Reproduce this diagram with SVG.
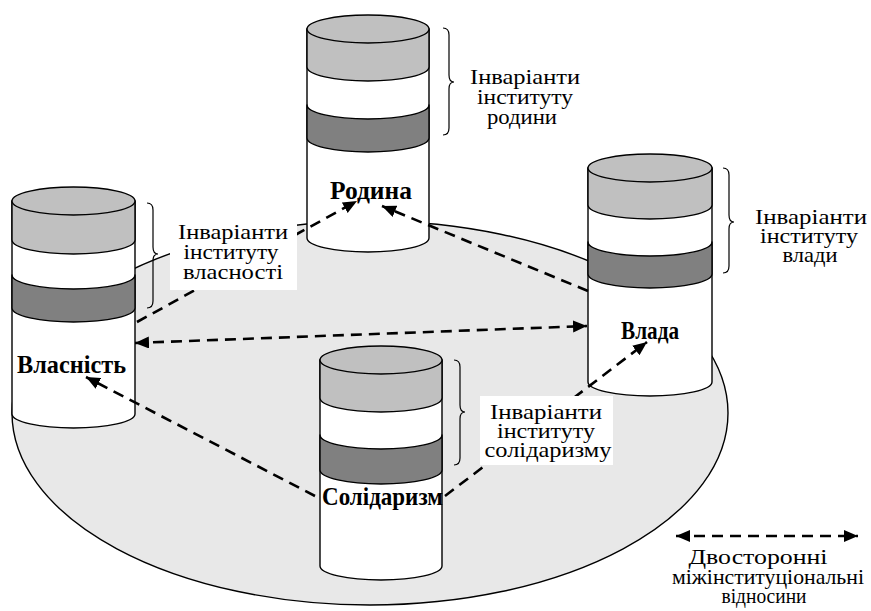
<svg xmlns="http://www.w3.org/2000/svg" width="871" height="611" viewBox="0 0 871 611">
<style>
.ol{stroke:#000;stroke-width:1.4;stroke-linejoin:round}
.lg{fill:#c0c0c0}
.dk{fill:#808080}
.wh{fill:#fff}
.br{fill:none;stroke:#000;stroke-width:1.2}
.lbl{font-family:"Liberation Serif","Times New Roman",serif;font-size:22px;fill:#000;text-anchor:middle}
.nm{font-family:"Liberation Serif","Times New Roman",serif;font-size:25px;font-weight:bold;fill:#000}
.cn{fill:none;stroke:#000;stroke-width:2.6;stroke-dasharray:11 7}
</style>
<defs>
<marker id="ah" markerUnits="userSpaceOnUse" markerWidth="15" markerHeight="12" refX="14" refY="6" orient="auto-start-reverse">
<path d="M0,0 L14,6 L0,12 Z" fill="#000"/>
</marker>
</defs>
<rect width="871" height="611" fill="#fff"/>
<g id="plate">
<ellipse cx="370" cy="413" rx="358" ry="192" fill="#e8e8e8" class="ol"/>
</g>
<g id="node-rodyna">
<path class="ol wh" d="M307,29 V238 A61,14 0 0 0 429,238 V29 Z"/>
<path class="ol lg" d="M307,29 V67 A61,14 0 0 0 429,67 V29 Z"/>
<path class="ol dk" d="M307,105 A61,14 0 0 0 429,105 V138 A61,14 0 0 1 307,138 Z"/>
<ellipse class="ol lg" cx="368" cy="29" rx="61" ry="14"/>
<path class="br" d="M443,28 Q449,28 449,35 V75 Q449,82 454,82 Q449,82 449,89 V128 Q449,135 443,135"/>
<text class="nm" x="330" y="199" textLength="82" lengthAdjust="spacingAndGlyphs">Родина</text>
</g>
<g id="node-vlasnist">
<path class="ol wh" d="M12,201 V414 A61.5,14 0 0 0 135,414 V201 Z"/>
<path class="ol lg" d="M12,201 V240 A61.5,14 0 0 0 135,240 V201 Z"/>
<path class="ol dk" d="M12,275 A61.5,14 0 0 0 135,275 V308 A61.5,14 0 0 1 12,308 Z"/>
<ellipse class="ol lg" cx="73.5" cy="201" rx="61.5" ry="14"/>
<path class="br" d="M147,203 Q153,203 153,210 V247 Q153,254 158,254 Q153,254 153,261 V301 Q153,308 147,308"/>
<text class="nm" x="17" y="373" textLength="109" lengthAdjust="spacingAndGlyphs">Власність</text>
</g>
<g id="node-vlada">
<path class="ol wh" d="M588,168 V382 A62,14 0 0 0 712,382 V168 Z"/>
<path class="ol lg" d="M588,168 V205 A62,14 0 0 0 712,205 V168 Z"/>
<path class="ol dk" d="M588,242 A62,14 0 0 0 712,242 V274 A62,14 0 0 1 588,274 Z"/>
<ellipse class="ol lg" cx="650" cy="168" rx="62" ry="14"/>
<path class="br" d="M723,168 Q729,168 729,175 V215 Q729,222 734,222 Q729,222 729,229 V266 Q729,273 723,273"/>
<text class="nm" x="621" y="339" textLength="58" lengthAdjust="spacingAndGlyphs">Влада</text>
</g>
<g id="node-solidaryzm">
<path class="ol wh" d="M320,360 V566 A61,14 0 0 0 442,566 V360 Z"/>
<path class="ol lg" d="M320,360 V398 A61,14 0 0 0 442,398 V360 Z"/>
<path class="ol dk" d="M320,435 A61,14 0 0 0 442,435 V470 A61,14 0 0 1 320,470 Z"/>
<ellipse class="ol lg" cx="381" cy="360" rx="61" ry="14"/>
<path class="br" d="M454,360 Q460,360 460,367 V405 Q460,412 465,412 Q460,412 460,419 V458 Q460,465 454,465"/>
<text class="nm" x="322" y="505" textLength="121" lengthAdjust="spacingAndGlyphs">Солідаризм</text>
</g>
<g id="connectors">
<line class="cn" x1="137" y1="322" x2="357" y2="201" marker-end="url(#ah)"/>
<line class="cn" x1="588" y1="291" x2="382" y2="206" marker-end="url(#ah)"/>
<line class="cn" x1="135" y1="343" x2="587" y2="326" marker-start="url(#ah)" marker-end="url(#ah)"/>
<line class="cn" x1="315" y1="496" x2="86" y2="377" marker-end="url(#ah)"/>
<line class="cn" x1="445" y1="496" x2="647" y2="342" marker-end="url(#ah)"/>
</g>
<g id="label-rodyna">
<text class="lbl" x="525" y="84" textLength="110" lengthAdjust="spacingAndGlyphs">Інваріанти</text>
<text class="lbl" x="525" y="104" textLength="96" lengthAdjust="spacingAndGlyphs">інституту</text>
<text class="lbl" x="522" y="124" textLength="70" lengthAdjust="spacingAndGlyphs">родини</text>
</g>
<g id="label-vlasnist">
<rect x="170" y="212" width="127" height="78" fill="#fff"/>
<text class="lbl" x="233" y="239" textLength="110" lengthAdjust="spacingAndGlyphs">Інваріанти</text>
<text class="lbl" x="231" y="259" textLength="95" lengthAdjust="spacingAndGlyphs">інституту</text>
<text class="lbl" x="233" y="279" textLength="100" lengthAdjust="spacingAndGlyphs">власності</text>
</g>
<g id="label-vlada">
<text class="lbl" x="811" y="224" textLength="112" lengthAdjust="spacingAndGlyphs">Інваріанти</text>
<text class="lbl" x="809" y="243" textLength="98" lengthAdjust="spacingAndGlyphs">інституту</text>
<text class="lbl" x="810" y="262" textLength="55" lengthAdjust="spacingAndGlyphs">влади</text>
</g>
<g id="label-solidaryzm">
<rect x="480" y="396" width="133" height="69" fill="#fff"/>
<text class="lbl" x="546" y="419" textLength="112" lengthAdjust="spacingAndGlyphs">Інваріанти</text>
<text class="lbl" x="546" y="438" textLength="98" lengthAdjust="spacingAndGlyphs">інституту</text>
<text class="lbl" x="548" y="457" textLength="127" lengthAdjust="spacingAndGlyphs">солідаризму</text>
</g>
<g id="legend">
<line class="cn" x1="676" y1="536" x2="858" y2="536" marker-start="url(#ah)" marker-end="url(#ah)"/>
<text class="lbl" x="758" y="564" textLength="139" lengthAdjust="spacingAndGlyphs">Двосторонні</text>
<text class="lbl" x="768" y="584" textLength="192" lengthAdjust="spacingAndGlyphs">міжінституціональні</text>
<text class="lbl" x="764" y="603" textLength="85" lengthAdjust="spacingAndGlyphs">відносини</text>
</g>
</svg>
